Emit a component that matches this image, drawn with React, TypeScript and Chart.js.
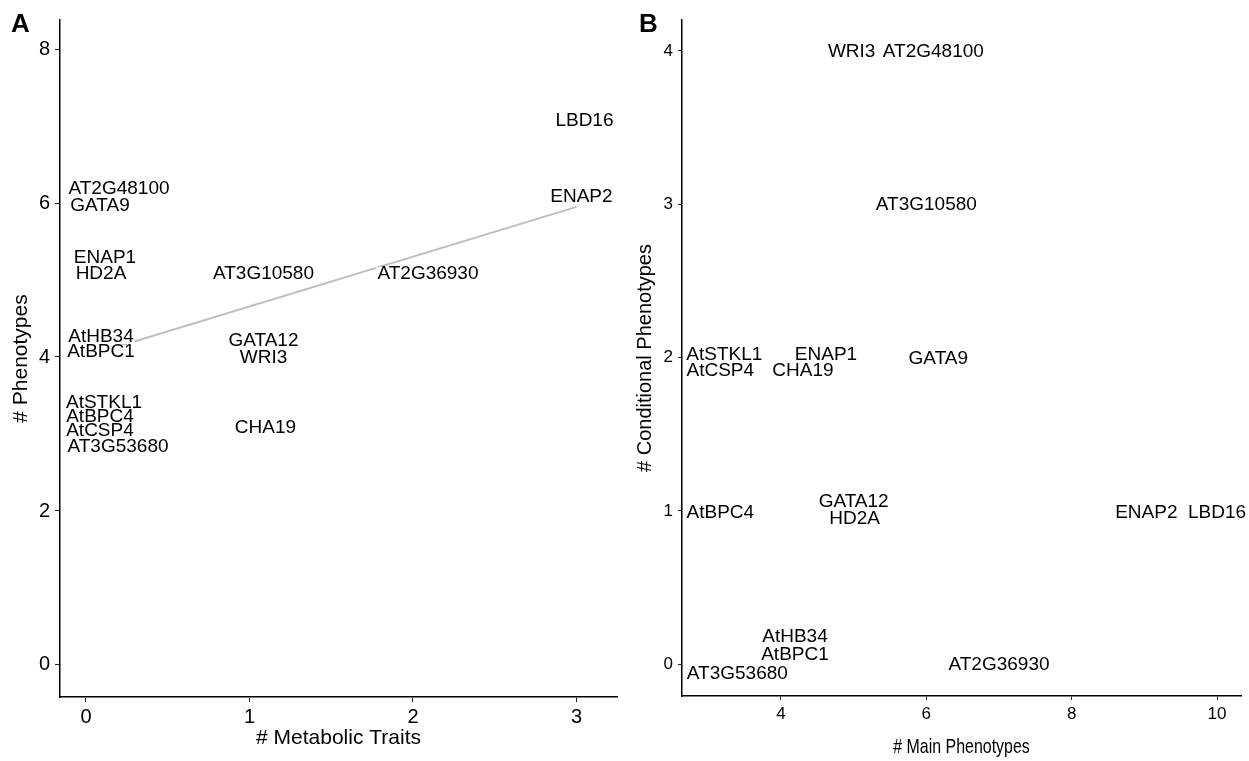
import React, { useEffect, useRef } from 'react';
import { Chart, registerables } from 'chart.js';

Chart.register(...registerables);

const FONT = "'Liberation Sans', Arial, Helvetica, sans-serif";

// ---------- Panel A: # Metabolic Traits vs # Phenotypes ----------
const genesA = ['LBD16', 'ENAP2', 'AT2G48100', 'GATA9', 'ENAP1', 'HD2A', 'AT3G10580', 'AT2G36930', 'AtHB34', 'AtBPC1', 'GATA12', 'WRI3', 'AtSTKL1', 'AtBPC4', 'AtCSP4', 'AT3G53680', 'CHA19'];
const metabolicTraits = [3, 3, 0, 0, 0, 0, 1, 2, 0, 0, 1, 1, 0, 0, 0, 0, 1];
const phenotypesA = [7, 6, 6, 6, 5, 5, 5, 5, 4, 4, 4, 4, 3, 3, 3, 3, 3];
const fitX = [0, 3];
const fitY = [4.01, 5.95];
const xTicksA = [0, 1, 2, 3];
const yTicksA = [0, 2, 4, 6, 8];

// ---------- Panel B: # Main Phenotypes vs # Conditional Phenotypes ----------
const genesB = ['WRI3', 'AT2G48100', 'AT3G10580', 'AtSTKL1', 'AtCSP4', 'ENAP1', 'CHA19', 'GATA9', 'AtBPC4', 'GATA12', 'HD2A', 'ENAP2', 'LBD16', 'AtHB34', 'AtBPC1', 'AT3G53680', 'AT2G36930'];
const mainPhenotypes = [5, 6, 6, 3, 3, 4, 4, 6, 3, 5, 5, 9, 10, 4, 4, 3, 7];
const conditionalPhenotypes = [4, 4, 3, 2, 2, 2, 2, 2, 1, 1, 1, 1, 1, 0, 0, 0, 0];
const xTicksB = [4, 6, 8, 10];
const yTicksB = [0, 1, 2, 3, 4];

// Label displacement (pixels) as placed by the repel layout
const offsetsA = [[8, -5], [5, -6], [33, -14], [14, 3], [19, -22], [15, -6], [14, -6], [15, -6], [15, -20], [15, -5], [14, -16], [14, 1], [18, -31], [14, -17], [14, -3], [32, 13], [16, -6]];
const offsetsB = [[-2, 1], [7, 1], [0, 1], [16, -3], [12, 13], [45, -3], [22, 13], [12, 1], [12, 2], [0, -9], [1, 8], [2, 2], [0, 2], [14, -27], [14, -9], [29, 10], [0, 1]];

const labelPlugin = {
  id: 'geneLabels',
  afterDatasetsDraw(chart: any, _args: any, opts: any) {
    const { ctx } = chart;
    const ds = chart.data.datasets[0];
    const xs = chart.scales.x;
    const ys = chart.scales.y;
    ctx.save();
    ctx.font = `${opts.size}px ${FONT}`;
    ctx.textAlign = 'center';
    ctx.textBaseline = 'middle';
    const pos = ds.data.map((p: any, i: number) => ({
      x: xs.getPixelForValue(p.x) + opts.offsets[i][0],
      y: ys.getPixelForValue(p.y) + opts.offsets[i][1],
      t: opts.labels[i],
    }));
    ctx.fillStyle = '#ffffff';
    pos.forEach((p: any) => {
      const w = ctx.measureText(p.t).width;
      ctx.fillRect(p.x - w / 2 - 1, p.y - 7, w + 2, 14);
    });
    ctx.fillStyle = '#000000';
    pos.forEach((p: any) => ctx.fillText(p.t, p.x, p.y));
    ctx.restore();
  },
};

const letterPlugin = {
  id: 'panelLetter',
  afterDraw(chart: any, _args: any, opts: any) {
    const { ctx } = chart;
    ctx.save();
    ctx.font = `bold 26px ${FONT}`;
    ctx.fillStyle = '#000';
    ctx.textAlign = 'left';
    ctx.textBaseline = 'alphabetic';
    ctx.fillText(opts.text, opts.x, opts.y);
    if (opts.xTitle) {
      const ca = chart.chartArea;
      ctx.font = `${opts.xTitleSize}px ${FONT}`;
      ctx.textAlign = 'center';
      ctx.textBaseline = 'middle';
      ctx.translate((ca.left + ca.right) / 2, opts.xTitleY);
      ctx.scale(opts.xTitleScale, 1);
      ctx.fillText(opts.xTitle, 0, 0);
    }
    ctx.restore();
  },
};

function axisCommon(tickVals: number[], tickSize: number, tickLen: number, pad: number, title: string, titleSize: number, titlePad: any, fitSize: number, horizontal: boolean, showTitle = true) {
  return {
    type: 'linear',
    afterBuildTicks: (s: any) => {
      s.ticks = tickVals.map((v) => ({ value: v }));
    },
    afterFit: (s: any) => {
      if (horizontal) s.height = fitSize;
      else s.width = fitSize;
    },
    grid: { drawOnChartArea: false, drawTicks: true, tickLength: tickLen, color: '#222', lineWidth: 1 },
    border: { display: true, color: '#000', width: 1.5 },
    ticks: { color: '#000', font: { size: tickSize, family: FONT }, padding: pad, maxRotation: 0, autoSkip: false },
    title: { display: showTitle, text: title, color: '#000', font: { size: titleSize, family: FONT }, padding: titlePad },
  };
}

export default function App() {
  const refA = useRef<HTMLCanvasElement>(null);
  const refB = useRef<HTMLCanvasElement>(null);

  useEffect(() => {
    const ptsA = metabolicTraits.map((x, i) => ({ x, y: phenotypesA[i] }));
    const fitPts = fitX.map((x, i) => ({ x, y: fitY[i] }));
    const chartA = new Chart(refA.current as HTMLCanvasElement, {
      type: 'scatter',
      data: {
        datasets: [
          { data: ptsA, pointRadius: 0, showLine: false } as any,
          { type: 'line', data: fitPts, borderColor: '#BEBEBE', borderWidth: 2, pointRadius: 0, fill: false } as any,
        ],
      },
      options: {
        responsive: false,
        animation: false,
        devicePixelRatio: 1,
        layout: { padding: { top: 20, right: 8, left: 0, bottom: 0 } },
        plugins: {
          legend: { display: false },
          tooltip: { enabled: false },
          geneLabels: { labels: genesA, offsets: offsetsA, size: 19 },
          panelLetter: { text: 'A', x: 11, y: 32 },
        } as any,
        scales: {
          x: { ...axisCommon(xTicksA, 20, 5, 3, '# Metabolic Traits', 21, { top: 0, bottom: 10 }, 64, true), min: -0.159, max: 3.248 },
          y: { ...axisCommon(yTicksA, 20, 5, 5, '# Phenotypes', 21, { top: 9, bottom: 0 }, 60, false), min: -0.416, max: 8.377 },
        } as any,
      },
      plugins: [labelPlugin, letterPlugin],
    });

    const ptsB = mainPhenotypes.map((x, i) => ({ x, y: conditionalPhenotypes[i] }));
    const chartB = new Chart(refB.current as HTMLCanvasElement, {
      type: 'scatter',
      data: { datasets: [{ data: ptsB, pointRadius: 0, showLine: false } as any] },
      options: {
        responsive: false,
        animation: false,
        devicePixelRatio: 1,
        layout: { padding: { top: 20, right: 8, left: 0, bottom: 0 } },
        plugins: {
          legend: { display: false },
          tooltip: { enabled: false },
          geneLabels: { labels: genesB, offsets: offsetsB, size: 19 },
          panelLetter: { text: 'B', x: 14, y: 32, xTitle: '# Main Phenotypes', xTitleSize: 21, xTitleScale: 0.76, xTitleY: 747 },
        } as any,
        scales: {
          x: { ...axisCommon(xTicksB, 17, 4, 4, '# Main Phenotypes', 17, { top: 0, bottom: 4 }, 65, true, false), min: 2.638, max: 10.33 },
          y: { ...axisCommon(yTicksB, 17, 4, 5, '# Conditional Phenotypes', 20, { top: 8, bottom: 0 }, 57, false), min: -0.208, max: 4.202 },
        } as any,
      },
      plugins: [labelPlugin, letterPlugin],
    });

    return () => {
      chartA.destroy();
      chartB.destroy();
    };
  }, []);

  return (
    <div style={{ position: 'fixed', left: 0, top: 0, width: 1249, height: 761, background: '#fff' }}>
      <canvas ref={refA} width={625} height={761} style={{ position: 'absolute', left: 0, top: 0, width: 625, height: 761 }} />
      <canvas ref={refB} width={624} height={761} style={{ position: 'absolute', left: 625, top: 0, width: 624, height: 761 }} />
    </div>
  );
}
